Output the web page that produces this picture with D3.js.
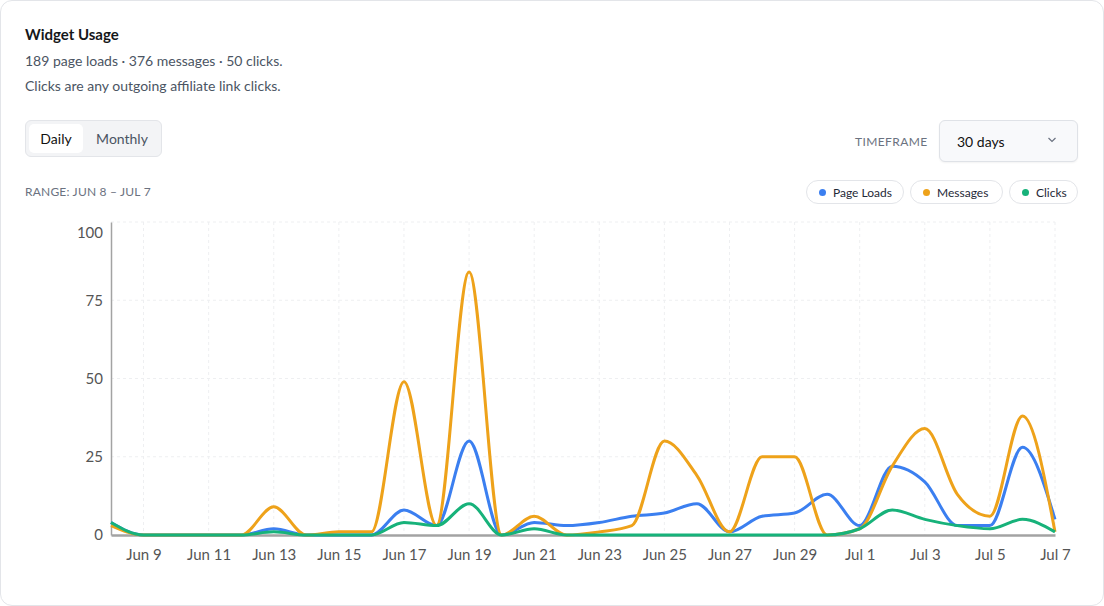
<!DOCTYPE html>
<html>
<head>
<meta charset="utf-8">
<script src="https://cdn.jsdelivr.net/npm/d3@7"></script>
<style>
  html, body { margin: 0; padding: 0; background: #fff; font-family: Lato, "Open Sans", sans-serif; }
  .card { position: absolute; left: 0; top: 0; width: 1102px; height: 604px; border: 1px solid #e3e5e9; border-radius: 12px; background: #fff; }
  .abs { position: absolute; white-space: nowrap; }
  .title { left: 25px; top: 25px; font-size: 15px; font-weight: 700; color: #15171a; }
  .sub { left: 25px; font-size: 14px; color: #4b5563; }
  .toggle { left: 25px; top: 120px; width: 135px; height: 35px; border: 1px solid #e3e5e9; border-radius: 6px; background: #f3f4f6; }
  .toggle .on { position: absolute; left: 3px; top: 3px; width: 54px; height: 29px; background: #fff; border-radius: 5px; font-size: 14px; color: #111; line-height: 29px; text-align: center; }
  .toggle .off { position: absolute; left: 57px; top: 3px; width: 78px; height: 29px; font-size: 14px; color: #4b5563; line-height: 29px; text-align: center; }
  .range { left: 25px; top: 184px; font-size: 12px; color: #6b7280; letter-spacing: 0.2px; }
  .tf { left: 855px; top: 134px; font-size: 12px; color: #6b7280; letter-spacing: 0.4px; }
  .select { left: 939px; top: 120px; width: 137px; height: 40px; border: 1px solid #dfe2e7; border-radius: 6px; background: #f8f9fb; box-shadow: 0 1px 2px rgba(0,0,0,0.05); }
  .select span { position: absolute; left: 17px; top: 12px; font-size: 14px; color: #111; }
  .select svg { position: absolute; left: 107px; top: 15px; }
  .pill { top: 180px; height: 24px; border: 1px solid #e3e5e9; border-radius: 13px; background: #fff; font-size: 12px; color: #1f2937; line-height: 24px; box-sizing: border-box; }
  .pill i { display: inline-block; width: 7px; height: 7px; border-radius: 50%; margin: 0 7px 1px 12px; }
  #chart { position: absolute; left: 0; top: 0; }
</style>
</head>
<body>
<div class="card"></div>
<div class="abs title">Widget Usage</div>
<div class="abs sub" style="top:52px">189 page loads · 376 messages · 50 clicks.</div>
<div class="abs sub" style="top:77px">Clicks are any outgoing affiliate link clicks.</div>
<div class="abs toggle"><div class="on">Daily</div><div class="off">Monthly</div></div>
<div class="abs range">RANGE: JUN 8 – JUL 7</div>
<div class="abs tf">TIMEFRAME</div>
<div class="abs select"><span>30 days</span>
  <svg width="10" height="8"><path d="M1.5 2 L5 5.5 L8.5 2" fill="none" stroke="#6b7280" stroke-width="1.2"/></svg>
</div>
<div id="legend"></div>
<svg id="chart" width="1104" height="606"></svg>
<script>
// day by day, Jun 8 .. Jul 7
var days = d3.timeDays(new Date(2024, 5, 8), new Date(2024, 6, 8));
var pageLoads = [4, 0, 0, 0, 0, 2, 0, 0, 0, 8, 3, 30, 0, 4, 3, 4, 6, 7, 10, 1, 6, 7, 13, 3, 22, 17, 3, 3, 28, 5];
var messages  = [3, 0, 0, 0, 0, 9, 0, 1, 1, 49, 3, 84, 0, 6, 0, 1, 3, 30, 19, 1, 25, 25, 0, 2, 22, 34, 13, 6, 38, 1];
var clicks    = [4, 0, 0, 0, 0, 1, 0, 0, 0, 4, 3, 10, 0, 2, 0, 0, 0, 0, 0, 0, 0, 0, 0, 2, 8, 5, 3, 2, 5, 1];
var seriesNames = ["Page Loads", "Messages", "Clicks"];
var seriesColors = ["#3b7ff0", "#eea21a", "#17b27a"];
var yTicks = [0, 25, 50, 75, 100];

var series = [pageLoads, messages, clicks];

// legend pills
var pillLeft = [806, 910, 1009];
var pillW = [98, 93, 69];
d3.select("#legend").selectAll("div")
  .data(seriesNames)
  .enter().append("div")
  .attr("class", "abs pill")
  .style("left", function(d, i) { return pillLeft[i] + "px"; })
  .style("width", function(d, i) { return pillW[i] + "px"; })
  .html(function(d, i) { return '<i style="background:' + seriesColors[i] + '"></i>' + d; });

var svg = d3.select("#chart");
var x = d3.scaleTime().domain([days[0], days[days.length - 1]]).range([111, 1055]);
var y = d3.scaleLinear().domain([0, 100]).range([535, 222]);
var xTicks = days.filter(function(d, i) { return i % 2 == 1; });

// grid
svg.append("g").selectAll("line.h")
  .data(yTicks.slice(1))
  .enter().append("line")
  .attr("x1", 111).attr("x2", 1055)
  .attr("y1", function(d) { return y(d); })
  .attr("y2", function(d) { return y(d); })
  .attr("stroke", "#eeeff1").attr("stroke-dasharray", "3,3");
svg.append("g").selectAll("line.v")
  .data(xTicks)
  .enter().append("line")
  .attr("x1", function(d) { return x(d); })
  .attr("x2", function(d) { return x(d); })
  .attr("y1", 222).attr("y2", 535)
  .attr("stroke", "#eeeff1").attr("stroke-dasharray", "3,3");

// axes
var fmt = d3.timeFormat("%b %-d");
var xAxis = svg.append("g").attr("transform", "translate(0,535)")
  .call(d3.axisBottom(x).tickValues(xTicks).tickFormat(fmt).tickSize(0).tickPadding(14));
xAxis.select(".domain").attr("stroke", "#a3a3a3").attr("stroke-width", 2.5);
xAxis.selectAll("text").attr("fill", "#555").style("font-size", "15px").style("font-family", "Lato, sans-serif");

var yAxis = svg.append("g").attr("transform", "translate(111,0)")
  .call(d3.axisLeft(y).tickValues(yTicks).tickSize(0).tickPadding(8));
yAxis.select(".domain").attr("stroke", "#a3a3a3").attr("stroke-width", 1.5);
yAxis.selectAll("text").attr("fill", "#555").style("font-size", "15px").style("font-family", "Lato, sans-serif")
  .attr("dy", function(d) { return d == 100 ? "1.05em" : "0.32em"; });

// lines
var line = d3.line()
  .x(function(d, i) { return x(days[i]); })
  .y(function(d) { return y(d); })
  .curve(d3.curveMonotoneX);

svg.append("g").selectAll("path.s")
  .data(series)
  .enter().append("path")
  .attr("d", line)
  .attr("fill", "none")
  .attr("stroke", function(d, i) { return seriesColors[i]; })
  .attr("stroke-width", 3)
  .attr("stroke-linejoin", "round");
</script>
</body>
</html>
